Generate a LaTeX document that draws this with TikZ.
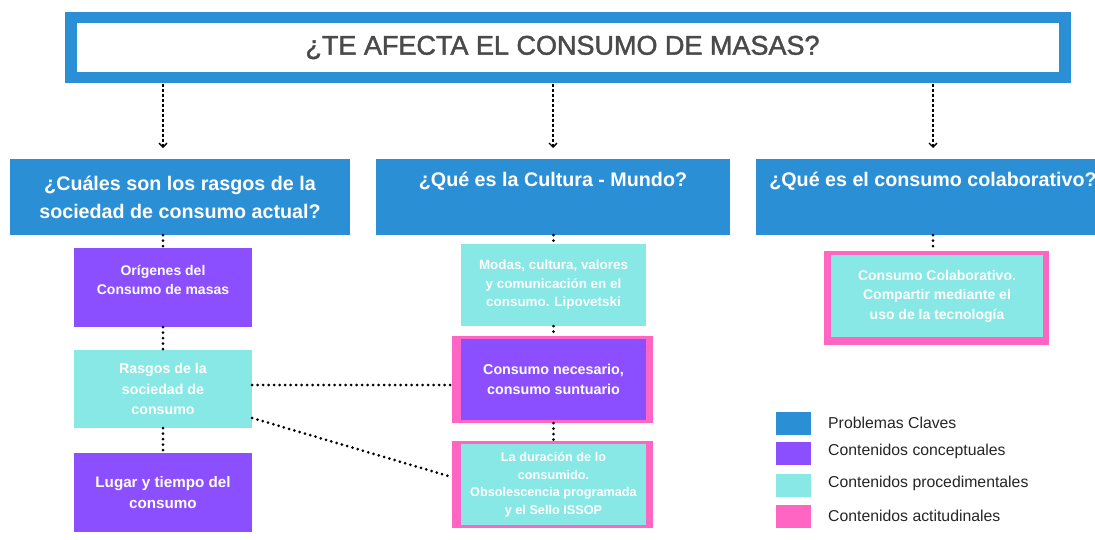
\documentclass[tikz,border=0pt]{standalone}
\usepackage{fontspec}
\setmainfont{Liberation Sans}
\newfontfamily\titlefont[FakeBold=1.6]{Liberation Sans}
\usetikzlibrary{arrows.meta}
\definecolor{pblue}{HTML}{2B8FD6}
\definecolor{ppurple}{HTML}{8C4FFF}
\definecolor{pcyan}{HTML}{87E8E6}
\definecolor{ppink}{HTML}{FF66C4}
\definecolor{tgray}{HTML}{4A4A4A}
\tikzset{
  box/.style={rectangle, inner sep=0pt, align=center, text=white, font=\bfseries},
  header/.style={box, fill=pblue, minimum height=76pt, font=\bfseries\fontsize{19.7}{28}\selectfont},
  concept/.style={box, fill=ppurple},
  proc/.style={box, fill=pcyan},
  att/.style={rectangle, inner sep=0pt, fill=ppink},
  dotline/.style={line width=3pt, dash pattern=on 0pt off 5.5pt, line cap=round, black},
  dasharrow/.style={line width=1.4pt, dash pattern=on 3pt off 2pt, black, -{Straight Barb[length=4pt,width=8pt,line width=1.3pt]}},
  legsq/.style={rectangle, inner sep=0pt, minimum width=35pt, minimum height=23pt},
  legtxt/.style={anchor=west, inner sep=0pt, font=\fontsize{15.8}{17}\selectfont, text=black!85}
}
\begin{document}
\begin{tikzpicture}[x=1pt,y=-1pt]
\useasboundingbox (0,0) rectangle (1095,539);
\fill[white] (0,0) rectangle (1095,539);

% title
\node[rectangle, fill=pblue, minimum width=1006pt, minimum height=71pt, inner sep=0pt] (titleout) at (568,47.5) {};
\node[rectangle, fill=white, minimum width=982pt, minimum height=49pt, inner sep=0pt] (titlein) at (568,47.5) {};
\node[inner sep=0pt, text=tgray, font=\titlefont\fontsize{27}{30}\selectfont] (title) at (562.5,47.5) {¿TE AFECTA EL CONSUMO DE MASAS?};

% headers
\node[header, minimum width=340pt] (h1) at (180,197) {¿Cuáles son los rasgos de la\\sociedad de consumo actual?};
\node[header, minimum width=354pt] (h2) at (553,197) {¿Qué es la Cultura - Mundo?\\\strut};
\node[header, minimum width=354pt] (h3) at (933,197) {¿Qué es el consumo colaborativo?\\\strut};

\coordinate (a1) at (163,83.5);
\coordinate (a2) at (553,83.5);
\coordinate (a3) at (933,83.5);
\draw[dasharrow] (a1) -- (163,148);
\draw[dasharrow] (a2) -- (553,148);
\draw[dasharrow] (a3) -- (933,148);

% column 1
\node[concept, minimum width=178pt, minimum height=79pt, font=\bfseries\fontsize{14}{19.5}\selectfont] (c1a) at (163,287.5) {Orígenes del\\Consumo de masas\\[-10pt]\strut};
\node[proc, minimum width=178pt, minimum height=78pt, font=\bfseries\fontsize{14.2}{20.5}\selectfont] (c1b) at (163,389) {Rasgos de la\\sociedad de\\consumo};
\node[concept, minimum width=178pt, minimum height=79pt, font=\bfseries\fontsize{15.2}{21}\selectfont] (c1c) at (163,492.5) {Lugar y tiempo del\\consumo};

% column 2
\node[proc, minimum width=185pt, minimum height=82pt, font=\bfseries\fontsize{13.4}{18.5}\selectfont] (c2a) at (553.5,285) {Modas, cultura, valores\\y comunicación en el\\consumo. Lipovetski};
\node[att, minimum width=201pt, minimum height=87pt] (c2bp) at (552.5,379.5) {};
\node[concept, minimum width=185pt, minimum height=81pt, font=\bfseries\fontsize{14.3}{20}\selectfont] (c2b) at (553.5,379.5) {Consumo necesario,\\consumo suntuario};
\node[att, minimum width=201pt, minimum height=87pt] (c2cp) at (552.5,484.5) {};
\node[proc, minimum width=185pt, minimum height=81pt, font=\bfseries\fontsize{12.7}{17.6}\selectfont] (c2c) at (553.5,484.5) {La duración de lo\\consumido.\\Obsolescencia programada\\y el Sello ISSOP};

% column 3
\node[att, minimum width=225pt, minimum height=94pt] (c3p) at (936.5,298) {};
\node[proc, minimum width=212pt, minimum height=82pt, font=\bfseries\fontsize{14}{19.5}\selectfont] (c3) at (937,296) {Consumo Colaborativo.\\Compartir mediante el\\uso de la tecnología};

% dotted connectors
\draw[dotline] (h1.south -| c1a) -- (c1a.north);
\draw[dotline] (c1a.south) -- (c1b.north);
\draw[dotline] (c1b.south) -- (c1c.north);
\draw[dotline] (h2.south -| c2a) -- (c2a.north);
\draw[dotline] (c2a.south) -- (c2bp.north -| c2a);
\draw[dotline] (c2bp.south -| c2a) -- (c2cp.north -| c2a);
\draw[dotline] (h3.south) -- (c3p.north -| h3);
\coordinate (r1) at ([yshift=4pt]c1b.east);
\coordinate (r2) at ([yshift=-29pt]c1b.east);
\coordinate (d2) at ([yshift=7.5pt]c2cp.west);
\draw[dotline] (r1) -- (r1 -| c2bp.west);
\draw[dotline] (r2) -- (d2);

% legend
\node[legsq, fill=pblue] (l1) at (793.5,423.5) {};
\node[legsq, fill=ppurple] (l2) at (793.5,453.5) {};
\node[legsq, fill=pcyan] (l3) at (793.5,485) {};
\node[legsq, fill=ppink] (l4) at (793.5,516) {};
\node[legtxt] (t1) at (828,423) {Problemas Claves};
\node[legtxt] (t2) at (828,451) {Contenidos conceptuales};
\node[legtxt] (t3) at (828,483) {Contenidos procedimentales};
\node[legtxt] (t4) at (828,516) {Contenidos actitudinales};
\end{tikzpicture}
\end{document}
